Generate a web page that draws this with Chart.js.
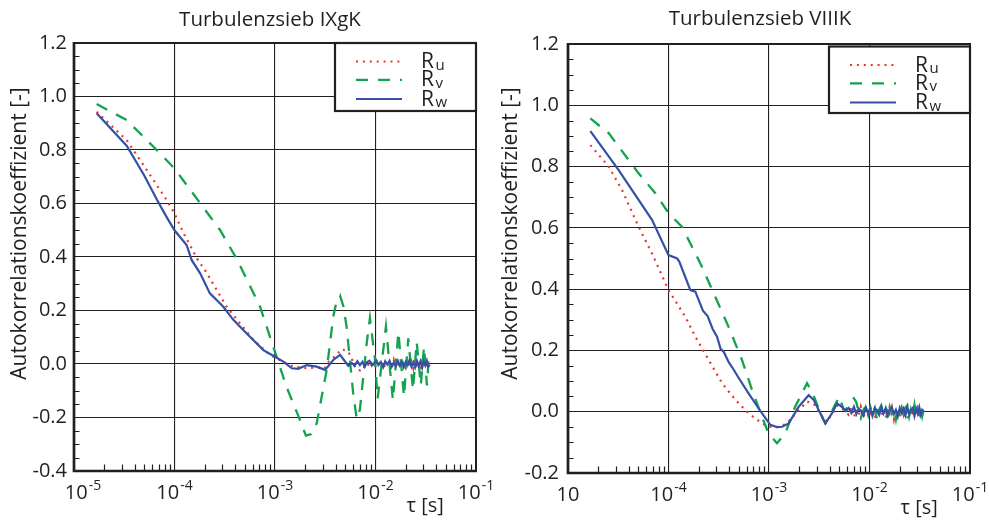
<!DOCTYPE html>
<html lang="de">
<head>
<meta charset="UTF-8">
<script src="https://cdn.jsdelivr.net/npm/chart.js"></script>
<style>
  body { margin: 0; background: #fff; }
  .wrap { position: absolute; top: 0; height: 520px; }
  #w1 { left: 0; width: 495px; }
  #w2 { left: 495px; width: 494px; }
</style>
</head>
<body>
<div class="wrap" id="w1"><canvas id="c1" width="495" height="520"></canvas></div>
<div class="wrap" id="w2"><canvas id="c2" width="494" height="520"></canvas></div>
<script>
// --- data: tau [s] and correlation values ---

// shared lag grid for the noisy tail
const noiseTau = [0.0058,0.0062,0.0066,0.0070,0.0074,0.0078,0.0082,0.0087,0.0092,0.0097,
  0.0102,0.0107,0.0113,0.0119,0.0125,0.0131,0.0138,0.0145,0.0152,0.0159,
  0.0167,0.0175,0.0183,0.0191,0.0200,0.0209,0.0218,0.0228,0.0238,0.0248,
  0.0258,0.0269,0.0280,0.0291,0.0302,0.0313,0.0324,0.0335,0.0345];

// Turbulenzsieb IXgK
const tauL_u = [1.68e-5,3.34e-5,5.3e-5,8.36e-5,1.0e-4,1.23e-4,1.7e-4,2.01e-4,2.63e-4,3.3e-4,4.49e-4,
  6.08e-4,8.9e-4,1.15e-3,1.52e-3,2.07e-3,2.6e-3,3.1e-3,3.4e-3,4.0e-3,4.6e-3,5.36e-3];
const ruL = [0.943,0.837,0.725,0.613,0.563,0.489,0.39,0.351,0.277,0.214,0.152,
  0.09,0.034,0.012,-0.01,-0.016,-0.012,-0.018,0.008,0.03,0.056,0.046];
const ruL_tail = [0.02,-0.008,-0.022,-0.024,-0.018,-0.006,0.006,-0.01,0.014,-0.008,
  0.01,0.018,-0.012,0.006,-0.016,0.012,0.004,-0.014,0.016,-0.006,
  0.01,-0.018,0.012,0.002,-0.014,0.018,-0.008,0.01,-0.016,0.014,
  -0.004,0.012,-0.018,0.008,-0.01,0.016,-0.012,0.006,-0.008];

const tauL_v = [1.68e-5,3.34e-5,6.65e-5,1.0e-4,1.8e-4,2.84e-4,4.2e-4,7.1e-4,9.6e-4,1.3e-3,
  1.77e-3,2.03e-3,2.3e-3,2.6e-3,3.27e-3,3.8e-3,4.1e-3,4.44e-3,4.8e-3,5.16e-3,
  6.0e-3,6.5e-3,7.0e-3,8.17e-3,8.8e-3,9.9e-3,1.05e-2,1.27e-2,1.49e-2,1.69e-2,
  1.92e-2,2.12e-2,2.36e-2,2.57e-2,2.82e-2,3.04e-2,3.25e-2,3.4e-2];
const rvL = [0.972,0.912,0.80,0.731,0.601,0.501,0.39,0.214,0.065,-0.085,
  -0.209,-0.268,-0.262,-0.222,-0.022,0.177,0.235,0.255,0.215,0.139,
  -0.11,-0.205,-0.17,0.077,0.172,0.015,-0.13,0.14,-0.135,0.12,
  -0.122,0.096,-0.097,0.083,-0.08,0.065,-0.08,0.03];

const tauL_w = [1.68e-5,3.34e-5,5.0e-5,6.67e-5,8.33e-5,1.0e-4,1.32e-4,1.48e-4,1.8e-4,2.25e-4,
  3.06e-4,3.85e-4,5.2e-4,7.66e-4,1.0e-3,1.21e-3,1.47e-3,1.7e-3,2.07e-3,2.6e-3,
  3.15e-3,3.8e-3,4.44e-3,5.37e-3];
const rwL = [0.937,0.816,0.705,0.615,0.55,0.50,0.445,0.389,0.339,0.264,
  0.214,0.165,0.115,0.052,0.027,0.009,-0.016,-0.018,-0.004,-0.01,
  -0.022,0.015,0.034,-0.007];
const rwL_tail = [0.004,-0.006,0.010,-0.004,0.008,-0.010,0.006,0.012,-0.006,0.004,
  0.014,-0.004,0.008,-0.012,0.010,-0.002,0.012,-0.010,0.006,-0.008,
  0.012,-0.006,0.010,-0.012,0.008,-0.004,0.014,-0.010,0.006,-0.012,
  0.012,-0.006,0.010,-0.014,0.008,-0.006,0.012,-0.010,-0.004];

// Turbulenzsieb VIIIK
const tauR_u = [1.67e-5,2.54e-5,3.44e-5,5.04e-5,7.1e-5,7.6e-5,1.0e-4,1.47e-4,1.85e-4,2.51e-4,
  3.41e-4,4.65e-4,6.26e-4,8.5e-4,1.0e-3,1.2e-3,1.5e-3,1.9e-3,2.4e-3,2.8e-3,
  3.3e-3,3.7e-3,4.3e-3,4.8e-3,5.3e-3];
const ruR = [0.870,0.80,0.724,0.604,0.506,0.484,0.397,0.31,0.245,0.169,
  0.093,0.038,-0.005,-0.038,-0.049,-0.05,-0.04,0.0,0.033,0.025,
  -0.01,-0.035,-0.005,0.02,0.01];
const ruR_tail = [0.0,-0.01,0.014,-0.018,0.006,-0.012,0.016,-0.02,0.008,0.012,
  -0.016,0.004,-0.022,0.01,0.014,-0.012,0.006,-0.02,0.012,-0.006,
  0.016,-0.024,0.008,0.004,-0.018,0.012,-0.01,0.014,-0.022,0.006,
  0.01,-0.016,0.012,-0.008,0.004,-0.014,0.01,-0.004,0.002];

const tauR_v = [1.67e-5,2.54e-5,5.04e-5,7.4e-5,1.0e-4,1.36e-4,1.85e-4,2.15e-4,2.92e-4,3.96e-4,
  5.38e-4,6.78e-4,8.5e-4,9.9e-4,1.2e-3,1.45e-3,1.82e-3,2.39e-3,2.72e-3,3.3e-3,
  3.63e-3,4.2e-3,5.0e-3,5.5e-3];
const rvR = [0.957,0.909,0.778,0.713,0.648,0.604,0.517,0.473,0.375,0.277,
  0.169,0.071,-0.016,-0.071,-0.103,-0.071,0.016,0.093,0.06,-0.01,
  -0.038,0.0,0.049,0.01];
const rvR_tail = [0.006,0.022,0.036,0.044,0.03,0.0,-0.02,0.006,0.018,-0.012,
  0.016,-0.008,0.012,-0.026,0.008,0.02,-0.014,0.01,-0.02,0.016,
  -0.006,0.012,-0.024,0.018,-0.004,0.01,-0.028,0.014,0.02,-0.016,
  0.008,-0.012,0.022,-0.02,0.01,-0.006,0.018,-0.014,0.004];

const tauR_w = [1.67e-5,3.18e-5,5.04e-5,6.85e-5,1.0e-4,1.22e-4,1.28e-4,1.65e-4,1.85e-4,2.2e-4,
  2.45e-4,2.75e-4,3.04e-4,3.3e-4,3.55e-4,4.0e-4,4.3e-4,5.0e-4,6.26e-4,8.5e-4,
  1.03e-3,1.2e-3,1.35e-3,1.57e-3,1.97e-3,2.48e-3,2.79e-3,3.24e-3,3.63e-3,4.24e-3,
  4.75e-3,5.3e-3];
const rwR = [0.916,0.789,0.691,0.626,0.511,0.50,0.49,0.397,0.392,0.33,
  0.312,0.27,0.245,0.205,0.195,0.16,0.145,0.11,0.06,-0.005,
  -0.043,-0.05,-0.049,-0.038,0.016,0.054,0.038,-0.005,-0.038,-0.005,
  0.027,0.016];
const rwR_tail = [0.002,0.012,-0.004,0.016,-0.008,0.010,0.004,-0.012,0.014,-0.006,
  0.008,-0.014,0.012,0.002,-0.010,0.016,-0.006,0.010,-0.012,0.008,
  0.014,-0.008,0.006,-0.016,0.012,-0.004,0.010,-0.012,0.016,-0.008,
  0.004,0.012,-0.014,0.010,-0.006,0.014,-0.010,0.006,0.002];

// --- styling ---
const INK = '#231f20';
const RED = '#e3382e', GREEN = '#13a34e', BLUE = '#3451a6';
const FONT = '"Open Sans", "DejaVu Sans", sans-serif';
Chart.defaults.font.family = FONT;

function series(label, sub, taus, vals, color, dash, width, order) {
  return {
    label, sub,
    data: taus.map((t, i) => ({ x: t, y: vals[i] })),
    borderColor: color, borderDash: dash, borderWidth: width,
    pointRadius: 0, tension: 0, fill: false, order
  };
}

// frame, minor ticks, legend and all the extra text
const decor = {
  id: 'decor',
  afterDraw(chart, args, o) {
    const ctx = chart.ctx, a = chart.chartArea;
    const xs = chart.scales.x, ys = chart.scales.y;
    ctx.save();

    // minor ticks, inward
    ctx.strokeStyle = INK;
    ctx.lineWidth = 1.2;
    ctx.setLineDash([]);
    ctx.beginPath();
    for (let e = -5; e <= -2; e++) {
      for (let m = 2; m <= 9; m++) {
        const px = Math.round(xs.getPixelForValue(m * Math.pow(10, e))) + 0.5;
        ctx.moveTo(px, a.bottom);
        ctx.lineTo(px, a.bottom - 6.5);
      }
    }
    const n0 = Math.round(ys.min / 0.05), n1 = Math.round(ys.max / 0.05);
    for (let n = n0; n <= n1; n++) {
      if (n % 4 === 0) continue;
      const py = Math.round(ys.getPixelForValue(n * 0.05)) + 0.5;
      ctx.moveTo(a.left, py);
      ctx.lineTo(a.left + 5.5, py);
    }
    ctx.stroke();

    // frame
    ctx.lineWidth = 2;
    ctx.beginPath();
    ctx.moveTo(a.left, a.top); ctx.lineTo(a.right, a.top); ctx.lineTo(a.right, a.bottom);
    ctx.stroke();
    ctx.lineWidth = 2.7;
    ctx.beginPath();
    ctx.moveTo(a.left, a.top - 1); ctx.lineTo(a.left, a.bottom); ctx.lineTo(a.right + 1, a.bottom);
    ctx.stroke();

    // legend
    const bw = 141, bx = a.right - bw, by = a.top + o.legendDy, bh = o.legendH;
    ctx.fillStyle = '#fff';
    ctx.fillRect(bx, by, bw, bh);
    ctx.lineWidth = 2.2;
    ctx.strokeStyle = INK;
    ctx.strokeRect(bx, by, bw, bh);
    const rows = [18.5, 36.8, 56];
    chart.data.datasets.forEach((d, i) => {
      const y = by + rows[i];
      ctx.setLineDash(d.borderDash);
      ctx.strokeStyle = d.borderColor;
      ctx.lineWidth = d.borderWidth;
      ctx.beginPath();
      ctx.moveTo(bx + 21, y); ctx.lineTo(bx + 67, y);
      ctx.stroke();
      ctx.setLineDash([]);
      ctx.fillStyle = INK;
      ctx.textAlign = 'left';
      ctx.textBaseline = 'alphabetic';
      ctx.font = '21px ' + FONT;
      ctx.fillText('R', bx + 86, y + 6.5);
      const rw = ctx.measureText('R').width;
      ctx.font = '15px ' + FONT;
      ctx.fillText(d.sub, bx + 87.5 + rw, y + 8);
    });

    // x tick labels 10^n
    ctx.fillStyle = INK;
    ctx.textAlign = 'left';
    ctx.textBaseline = 'alphabetic';
    for (let e = -5; e <= -1; e++) {
      const px = xs.getPixelForValue(Math.pow(10, e));
      const sup = (o.plainFirst && e === -5) ? '' : String(e);
      ctx.font = '20px ' + FONT;
      const wb = ctx.measureText('10').width;
      ctx.font = '14px ' + FONT;
      const ws = sup ? ctx.measureText(sup).width + 1 : 0;
      let x0 = px - (wb + ws) / 2;
      if (e === -5) x0 += o.firstShift;
      ctx.font = '20px ' + FONT;
      ctx.fillText('10', x0, a.bottom + 28);
      if (sup) {
        ctx.font = '14px ' + FONT;
        ctx.fillText(sup, x0 + wb + 1, a.bottom + 19);
      }
    }

    // axis titles
    ctx.font = '20px ' + FONT;
    ctx.fillText('\u03c4 [s]', a.right - 69.5, a.bottom + 41);
    ctx.save();
    ctx.translate(o.yTitleX, 233.5);
    ctx.rotate(-Math.PI / 2);
    ctx.textAlign = 'center';
    ctx.font = '21px ' + FONT;
    ctx.fillText('Autokorrelationskoeffizient [-]', 0, 0);
    ctx.restore();

    // chart title
    ctx.textAlign = 'center';
    ctx.font = '20.5px ' + FONT;
    ctx.fillText(o.title, o.titleX, o.titleY);

    ctx.restore();
  }
};

function makeChart(id, s) {
  return new Chart(document.getElementById(id), {
    type: 'line',
    data: {
      datasets: [
        series('Ru', 'u', s.tauU, s.ru, RED, [2, 4.9], 2.2, 2),
        series('Rv', 'v', s.tauV, s.rv, GREEN, [12, 10], 2.3, 1),
        series('Rw', 'w', s.tauW, s.rw, BLUE, [], 2.2, 0)
      ]
    },
    options: {
      responsive: false,
      animation: false,
      events: [],
      layout: { padding: s.pad },
      plugins: {
        legend: { display: false },
        tooltip: { enabled: false },
        decor: s.decor
      },
      scales: {
        x: {
          type: 'logarithmic', min: 1e-5, max: 1e-1,
          ticks: { display: false },
          border: { display: false },
          grid: {
            drawTicks: false,
            lineWidth: 1.1,
            color: c => {
              const l = Math.log10(c.tick.value);
              return Math.abs(l - Math.round(l)) < 1e-3 ? INK : 'rgba(0,0,0,0)';
            }
          },
          afterFit: sc => { sc.height = 0; }
        },
        y: {
          min: s.yMin, max: 1.2,
          ticks: {
            stepSize: 0.2, padding: s.tickPad, color: INK,
            font: { size: 20 },
            callback: v => (Math.abs(v) < 1e-9 ? 0 : v).toFixed(1)
          },
          border: { display: false },
          grid: { drawTicks: false, color: INK, lineWidth: 1.1 },
          afterFit: sc => { sc.width = 60; }
        }
      }
    },
    plugins: [decor]
  });
}

makeChart('c1', {
  tauU: tauL_u.concat(noiseTau), ru: ruL.concat(ruL_tail),
  tauV: tauL_v, rv: rvL,
  tauW: tauL_w.concat(noiseTau), rw: rwL.concat(rwL_tail),
  yMin: -0.4, tickPad: 7,
  pad: { left: 14, right: 19, top: 43, bottom: 49 },
  decor: { title: 'Turbulenzsieb IXgK', titleX: 270, titleY: 26, yTitleX: 26,
           legendDy: 0, legendH: 68, plainFirst: false, firstShift: 9 }
});

makeChart('c2', {
  tauU: tauR_u.concat(noiseTau), ru: ruR.concat(ruR_tail),
  tauV: tauR_v.concat(noiseTau), rv: rvR.concat(rvR_tail),
  tauW: tauR_w.concat(noiseTau), rw: rwR.concat(rwR_tail),
  yMin: -0.2, tickPad: 9,
  pad: { left: 13, right: 19, top: 44, bottom: 47 },
  decor: { title: 'Turbulenzsieb VIIIK', titleX: 265, titleY: 25, yTitleX: 22,
           legendDy: 2.5, legendH: 66.5, plainFirst: true, firstShift: 0 }
});
</script>
</body>
</html>
